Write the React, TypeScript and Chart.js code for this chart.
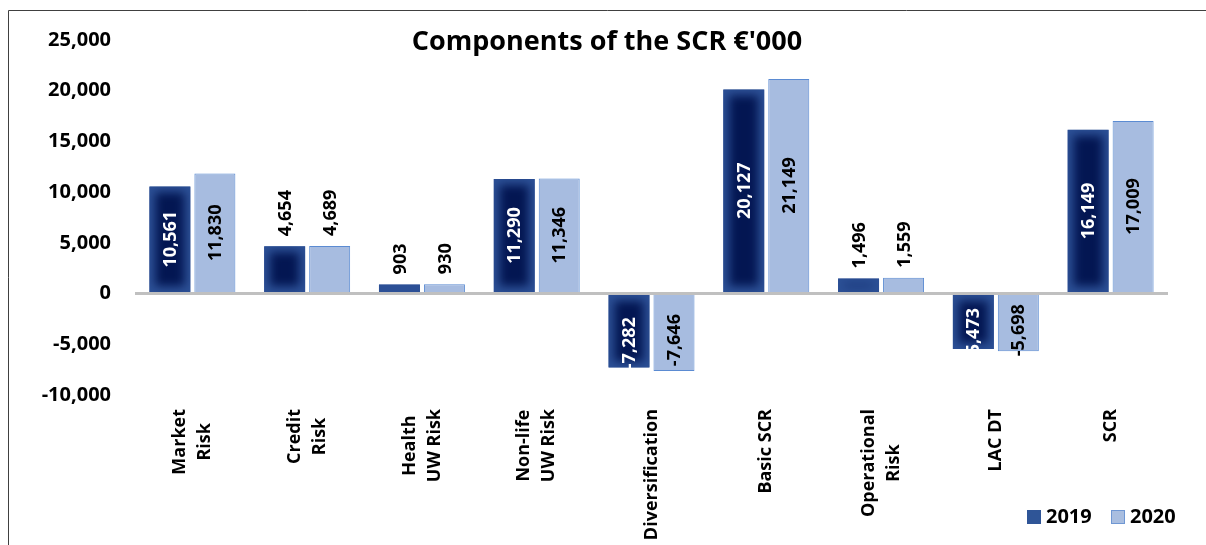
import React, { useEffect, useRef } from 'react';
import { Chart, registerables } from 'chart.js';

Chart.register(...registerables);

const categories: string[][] = [
  ['Market', 'Risk'],
  ['Credit', 'Risk'],
  ['Health', 'UW Risk'],
  ['Non-life', 'UW Risk'],
  ['Diversification'],
  ['Basic SCR'],
  ['Operational', 'Risk'],
  ['LAC DT'],
  ['SCR'],
];
const values2019 = [10561, 4654, 903, 11290, -7282, 20127, 1496, -5473, 16149];
const values2020 = [11830, 4689, 930, 11346, -7646, 21149, 1559, -5698, 17009];
const seriesLabels = ['2019', '2020'];
const yTicks = [-10000, -5000, 0, 5000, 10000, 15000, 20000, 25000];
const titleText = "Components of the SCR €'000";

const FONT = '"Open Sans", "Liberation Sans", sans-serif';
const fmt = (v: number) => v.toLocaleString('en-US');

const customPlugin = {
  id: 'customDraw',
  afterDatasetsDraw(chart: any) {
    const ctx: CanvasRenderingContext2D = chart.ctx;
    // shaded fill for 2019 bars
    const meta0 = chart.getDatasetMeta(0);
    meta0.data.forEach((el: any) => {
      const { x, y, base, width } = el.getProps(['x', 'y', 'base', 'width'], true);
      const left = x - width / 2;
      const top = Math.min(y, base);
      const h = Math.abs(base - y);
      ctx.save();
      ctx.beginPath();
      ctx.rect(left, top, width, h);
      ctx.clip();
      ctx.fillStyle = '#2C5096';
      ctx.fillRect(left, top, width, h);
      if (h > 10) {
        ctx.filter = 'blur(5px)';
        ctx.fillStyle = '#031652';
        ctx.fillRect(left + 6, top + 6, width - 12, Math.max(h - 12, 2));
        ctx.filter = 'none';
      }
      ctx.restore();
    });

    // data labels
    ctx.save();
    ctx.font = `bold 18px ${FONT}`;
    [0, 1].forEach((di) => {
      const meta = chart.getDatasetMeta(di);
      const vals = chart.data.datasets[di].data as number[];
      meta.data.forEach((el: any, i: number) => {
        const v = vals[i];
        const { x, y, base } = el.getProps(['x', 'y', 'base'], true);
        const text = fmt(v);
        ctx.save();
        if (Math.abs(v) >= 5000) {
          const cy = (y + base) / 2 + (v < 0 ? (di === 0 ? 12 : 7) : 0);
          ctx.translate(x, cy);
          ctx.rotate(-Math.PI / 2);
          ctx.textAlign = 'center';
          ctx.textBaseline = 'middle';
          ctx.fillStyle = di === 0 ? '#FFFFFF' : '#000000';
        } else {
          ctx.translate(x, y - 10);
          ctx.rotate(-Math.PI / 2);
          ctx.textAlign = 'left';
          ctx.textBaseline = 'middle';
          ctx.fillStyle = '#000000';
        }
        ctx.fillText(text, 0, 1);
        ctx.restore();
      });
    });
    ctx.restore();
  },
  afterDraw(chart: any) {
    const ctx: CanvasRenderingContext2D = chart.ctx;
    const area = chart.chartArea;
    ctx.save();
    // frame
    ctx.strokeStyle = '#404040';
    ctx.lineWidth = 1;
    ctx.beginPath();
    ctx.moveTo(8.5, chart.height);
    ctx.lineTo(8.5, 10.5);
    ctx.lineTo(chart.width, 10.5);
    ctx.stroke();

    // title
    ctx.fillStyle = '#000';
    ctx.font = `bold 27px ${FONT}`;
    ctx.textAlign = 'center';
    ctx.textBaseline = 'middle';
    ctx.fillText(titleText, 607, 42);

    // x labels
    const xs = chart.scales.x;
    ctx.font = `bold 18px ${FONT}`;
    const lh = 25;
    categories.forEach((lines, i) => {
      const cx = xs.getPixelForValue(i);
      const L = Math.max(...lines.map((l) => ctx.measureText(l).width));
      ctx.save();
      ctx.translate(cx, area.bottom + 14);
      ctx.rotate(-Math.PI / 2);
      ctx.textAlign = 'center';
      ctx.textBaseline = 'middle';
      lines.forEach((ln, j) => {
        const off = (j - (lines.length - 1) / 2) * lh;
        ctx.fillText(ln, -L / 2, off);
      });
      ctx.restore();
    });

    // legend
    ctx.font = `bold 20px ${FONT}`;
    ctx.textAlign = 'left';
    ctx.textBaseline = 'middle';
    const ly = 517;
    ctx.fillStyle = '#2F5597';
    ctx.fillRect(1027, ly - 7, 14, 14);
    ctx.fillStyle = '#000';
    ctx.fillText(seriesLabels[0], 1046, ly);
    ctx.fillStyle = '#A9BEE0';
    ctx.fillRect(1111, ly - 7, 14, 14);
    ctx.strokeStyle = '#6F97D3';
    ctx.strokeRect(1111.5, ly - 6.5, 13, 13);
    ctx.fillStyle = '#000';
    ctx.fillText(seriesLabels[1], 1130, ly);
    ctx.restore();
  },
};

export default function App() {
  const ref = useRef<HTMLCanvasElement | null>(null);
  useEffect(() => {
    if (!ref.current) return;
    const chart = new Chart(ref.current, {
      type: 'bar',
      data: {
        labels: categories.map((c) => c.join(' ')),
        datasets: [
          {
            label: seriesLabels[0],
            data: values2019,
            backgroundColor: '#2C5096',
            borderWidth: 0,
            categoryPercentage: 0.784,
            barPercentage: 0.911,
          },
          {
            label: seriesLabels[1],
            data: values2020,
            backgroundColor: '#A7BCE0',
            borderColor: '#5B8BD2',
            borderWidth: 1,
            categoryPercentage: 0.784,
            barPercentage: 0.911,
          },
        ],
      },
      options: {
        animation: false,
        responsive: false,
        maintainAspectRatio: false,
        layout: { padding: { top: 40, right: 38, left: 0, bottom: 0 } },
        plugins: {
          legend: { display: false },
          title: { display: false },
          tooltip: { enabled: false },
        },
        scales: {
          x: {
            grid: { display: false },
            border: { display: false },
            ticks: { display: false },
            afterFit: (s: any) => {
              s.height = 150;
            },
          },
          y: {
            min: -10000,
            max: 25000,
            afterBuildTicks: (s: any) => {
              s.ticks = yTicks.map((v) => ({ value: v }));
            },
            ticks: {
              font: { family: FONT, weight: 'bold', size: 20 },
              color: '#000',
              padding: 24,
              callback: (v: any) => fmt(Number(v)),
            },
            grid: {
              drawTicks: false,
              color: (c: any) => (c.tick && c.tick.value === 0 ? '#C0C0C0' : 'rgba(0,0,0,0)'),
              lineWidth: (c: any) => (c.tick && c.tick.value === 0 ? 3 : 1),
            },
            border: { display: false },
            afterFit: (s: any) => {
              s.width = 135;
            },
          },
        },
      },
      plugins: [customPlugin],
    });
    return () => chart.destroy();
  }, []);
  return (
    <div style={{ position: 'fixed', left: 0, top: 0, width: 1206, height: 545, background: '#fff' }}>
      <canvas ref={ref} width={1206} height={545} style={{ display: 'block' }} />
    </div>
  );
}
